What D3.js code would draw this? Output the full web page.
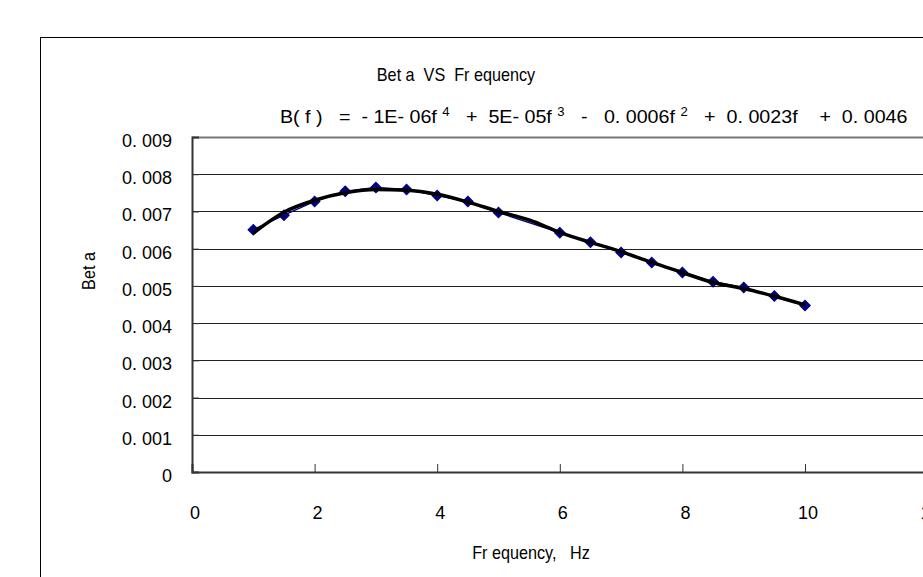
<!DOCTYPE html>
<html>
<head>
<meta charset="utf-8">
<script src="https://cdn.jsdelivr.net/npm/d3@7"></script>
<style>
  body { margin: 0; background: #fff; }
  svg { display: block; }
</style>
</head>
<body>
<div id="chart"></div>
<script>
// measured points (Hz, Beta)
var freq = [1, 1.5, 2, 2.5, 3, 3.5, 4, 4.5, 5, 6, 6.5, 7, 7.5, 8, 8.5, 9, 9.5, 10];
var beta = [0.00651, 0.00690, 0.00727, 0.00754, 0.00764, 0.00759, 0.00743, 0.00727, 0.00697,
            0.00643, 0.00617, 0.00590, 0.00563, 0.00536, 0.00511, 0.00496, 0.00473, 0.00447];

// trend line
var trendFreq = [1, 1.5, 2, 2.5, 3, 3.5, 4, 4.5, 5, 5.5, 6, 6.5, 7, 7.5, 8, 8.5, 9, 9.5, 10];
var trendBeta = [0.00642, 0.00698, 0.00730, 0.00750, 0.00759, 0.00757, 0.00746, 0.00725, 0.00700,
                 0.00677, 0.00644, 0.00617, 0.00592, 0.00563, 0.00536, 0.00509, 0.00493, 0.00472, 0.00449];

var xTicks = [0, 2, 4, 6, 8, 10, 12];
var yTicks = [0, 0.001, 0.002, 0.003, 0.004, 0.005, 0.006, 0.007, 0.008, 0.009];
var yTickLabels = ["0", "0. 001", "0. 002", "0. 003", "0. 004", "0. 005", "0. 006", "0. 007", "0. 008", "0. 009"];

var W = 923, H = 577,
    plot = {left: 192, top: 137, bottom: 472},
    unit = 61.3,
    font = "Liberation Sans, Arial, sans-serif";

var svg = d3.select("#chart").append("svg")
  .attr("width", W)
  .attr("height", H);

// squeeze a text horizontally so it spans the given width (the original uses a condensed face)
function fitWidth(t, width, x0) {
  var w = t.node().getBBox().width;
  var s = width / w;
  t.attr("transform", "translate(" + x0 + ",0) scale(" + s + ",1) translate(" + (-x0) + ",0)");
}

// chart frame (runs off the right/bottom edge)
svg.append("rect")
  .attr("x", 40.5).attr("y", 37.5)
  .attr("width", 1000).attr("height", 600)
  .attr("fill", "#fff")
  .attr("stroke", "#000")
  .attr("stroke-width", 1);

var x = d3.scaleLinear().domain([0, 12]).range([plot.left, plot.left + 12 * unit]);
var y = d3.scaleLinear().domain([0, 0.009]).range([plot.bottom, plot.top]);

// gridlines
svg.selectAll("line.grid")
  .data(yTicks.slice(1))
  .enter().append("line")
    .attr("class", "grid")
    .attr("x1", x(0)).attr("x2", x(12))
    .attr("y1", function (d) { return Math.round(y(d)) + 0.5; })
    .attr("y2", function (d) { return Math.round(y(d)) + 0.5; })
    .attr("stroke", function (d) { return d === 0.009 ? "#777" : "#222"; })
    .attr("stroke-width", function (d) { return d === 0.009 ? 2 : 1; });

// axes
var yAxis = svg.append("g")
  .attr("transform", "translate(" + plot.left + ",0)")
  .call(d3.axisRight(y).tickValues(yTicks).tickSize(7).tickFormat(""));
var xAxis = svg.append("g")
  .attr("transform", "translate(0," + plot.bottom + ")")
  .call(d3.axisTop(x).tickValues(xTicks).tickSize(8).tickFormat(""));
[yAxis, xAxis].forEach(function (g) {
  g.select(".domain").attr("stroke", "#333").attr("stroke-width", 2);
  g.selectAll(".tick line").attr("stroke", "#333").attr("stroke-width", 1);
});
xAxis.selectAll(".tick").filter(function (d) { return d === 0; }).remove();

svg.selectAll("text.ylab")
  .data(yTicks)
  .enter().append("text")
    .attr("class", "ylab")
    .attr("x", 172)
    .attr("y", function (d) { return y(d) + 10; })
    .attr("text-anchor", "end")
    .attr("font-family", font)
    .attr("font-size", "18px")
    .attr("fill", "#000")
    .text(function (d, i) { return yTickLabels[i]; });

svg.selectAll("text.xlab")
  .data(xTicks)
  .enter().append("text")
    .attr("class", "xlab")
    .attr("x", function (d) { return x(d) + 3; })
    .attr("y", 519)
    .attr("text-anchor", "middle")
    .attr("font-family", font)
    .attr("font-size", "18px")
    .attr("fill", "#000")
    .text(function (d) { return d; });

// data series line + diamonds
var pts = freq.map(function (f, i) { return [f, beta[i]]; });
svg.append("path")
  .datum(pts)
  .attr("fill", "none")
  .attr("stroke", "#000080")
  .attr("stroke-width", 1.5)
  .attr("d", d3.line().x(function (d) { return x(d[0]); }).y(function (d) { return y(d[1]); }));

svg.selectAll("path.marker")
  .data(pts)
  .enter().append("path")
    .attr("class", "marker")
    .attr("d", d3.symbol().type(d3.symbolSquare).size(56))
    .attr("transform", function (d) { return "translate(" + x(d[0]) + "," + y(d[1]) + ") rotate(45)"; })
    .attr("fill", "#000080")
    .attr("stroke", "#000080")
    .attr("stroke-width", 1);

// trend line
var trend = trendFreq.map(function (f, i) { return [f, trendBeta[i]]; });
svg.append("path")
  .datum(trend)
  .attr("fill", "none")
  .attr("stroke", "#000")
  .attr("stroke-width", 3.5)
  .attr("stroke-linejoin", "round")
  .attr("d", d3.line().curve(d3.curveMonotoneX)
    .x(function (d) { return x(d[0]); }).y(function (d) { return y(d[1]); }));

// titles
svg.append("text")
  .attr("transform", "translate(456,81) scale(0.9,1)")
  .attr("text-anchor", "middle")
  .attr("font-family", font)
  .attr("font-size", "18px")
  .style("white-space", "pre")
  .text("Bet a  VS  Fr equency");

var eq = svg.append("text")
  .attr("x", 280).attr("y", 123)
  .attr("font-family", font)
  .attr("font-size", "18px")
  .style("white-space", "pre");
var eqParts = [
  ["B( f )   =  - 1E- 06f ", false], ["4", true], ["   +  5E- 05f ", false], ["3", true],
  ["   -   0. 0006f ", false], ["2", true], ["   +  0. 0023f    +  0. 0046", false]
];
eqParts.forEach(function (p) {
  eq.append("tspan")
    .attr("font-size", p[1] ? "12px" : "18px")
    .attr("baseline-shift", p[1] ? "7px" : null)
    .text(p[0]);
});
fitWidth(eq, 628, 280);

svg.append("text")
  .attr("transform", "translate(95,271) rotate(-90) scale(0.9,1)")
  .attr("text-anchor", "middle")
  .attr("font-family", font)
  .attr("font-size", "18px")
  .text("Bet a");

svg.append("text")
  .attr("transform", "translate(531,559) scale(0.9,1)")
  .attr("text-anchor", "middle")
  .attr("font-family", font)
  .attr("font-size", "18px")
  .style("white-space", "pre")
  .text("Fr equency,   Hz");
</script>
</body>
</html>
